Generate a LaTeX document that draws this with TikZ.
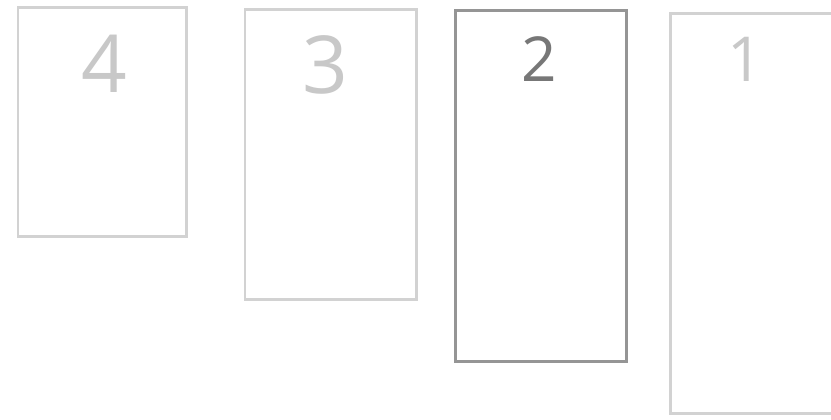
\documentclass[tikz,border=0pt]{standalone}
\usepackage{fontspec}
\setmainfont{Open Sans}
\definecolor{lightbox}{HTML}{D2D2D2}
\definecolor{darkbox}{HTML}{959595}
\definecolor{lightdigit}{HTML}{C8C8C8}
\definecolor{darkdigit}{HTML}{777777}
\tikzset{
  card/.style={draw=lightbox, line width=2.6pt, fill=white, rectangle, anchor=north west, inner sep=0pt},
  activecard/.style={card, draw=darkbox, line width=3.2pt},
  bignum/.style={text=lightdigit, font=\fontsize{80}{80}\selectfont, inner sep=0pt, anchor=base},
  smallnum/.style={text=lightdigit, font=\fontsize{62}{62}\selectfont, inner sep=0pt, anchor=base},
}
\begin{document}
\begin{tikzpicture}[x=1pt,y=-1pt]
\useasboundingbox (0,0) rectangle (831,420);
\clip (0,0) rectangle (831,420);
\node[card, minimum width=168.5pt, minimum height=229pt] (c4) at (16.5,6) {};
\node[card, minimum width=171.5pt, minimum height=290pt] (c3) at (243.5,8) {};
\node[activecard, minimum width=171pt, minimum height=351pt] (c2) at (453.5,9) {};
\node[card, minimum width=200pt, minimum height=400pt] (c1) at (669,12) {};
\node[bignum] (n4) at (104,93) {4};
\node[bignum] (n3) at (325,94) {3};
\node[smallnum, text=darkdigit] (n2) at (539,82) {2};
\node[smallnum] (n1) at (745,82) {1};
\end{tikzpicture}
\end{document}
